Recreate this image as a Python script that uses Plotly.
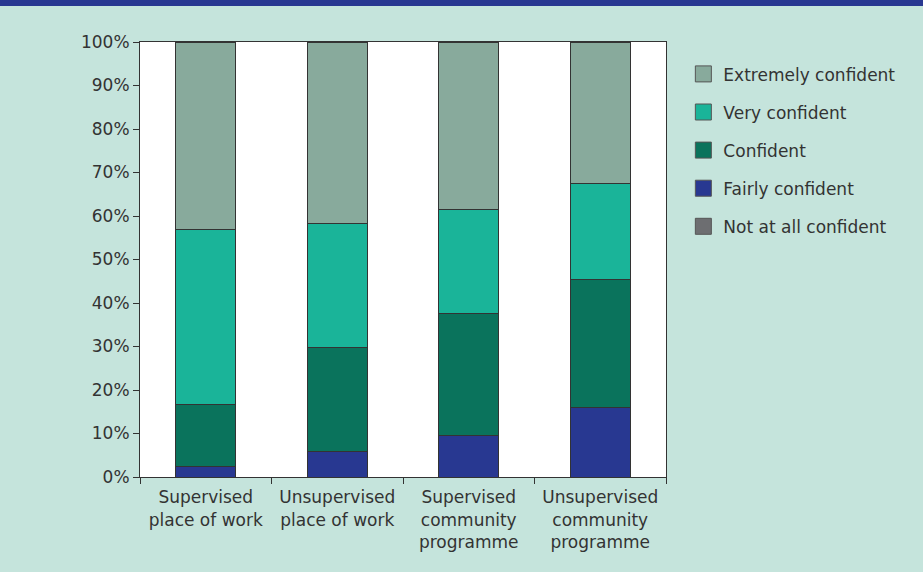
import plotly.graph_objects as go

categories = ["Supervised<br>place of work", "Unsupervised<br>place of work",
              "Supervised<br>community<br>programme", "Unsupervised<br>community<br>programme"]
not_at_all = [0, 0, 0, 0]
fairly = [2.4, 5.9, 9.6, 16.0]
confident = [14.3, 23.9, 28.0, 29.3]
very = [40.2, 28.5, 24.0, 22.1]
extremely = [43.1, 41.7, 38.4, 32.6]

series = [
    ("Not at all confident", not_at_all, "#6d6e71"),
    ("Fairly confident", fairly, "#283891"),
    ("Confident", confident, "#0a735c"),
    ("Very confident", very, "#1ab499"),
    ("Extremely confident", extremely, "#88aa9c"),
]

FONT = "'DejaVu Sans', sans-serif"
FS = 17
fig = go.Figure()
for name, vals, col in series:
    fig.add_trace(go.Bar(
        x=categories, y=vals, name=name, showlegend=False,
        marker=dict(color=col, line=dict(color="#333333", width=1)),
    ))
n = len(series)
for i, (name, vals, col) in enumerate(series):
    fig.add_trace(go.Scatter(
        x=[None], y=[None], mode="markers", name=name,
        legendgroup=name, legendrank=n - i,
        marker=dict(symbol="square", size=16, color=col,
                    line=dict(color="#555555", width=1)),
    ))

fig.update_layout(
    barmode="stack",
    bargap=0.545,
    width=923, height=572,
    paper_bgcolor="#c5e4dc",
    plot_bgcolor="white",
    margin=dict(l=140, r=257, t=42, b=95),
    font=dict(family=FONT, size=FS, color="#333333"),
    showlegend=True,
    legend=dict(
        x=1.033, y=0.967, xanchor="left", yanchor="top",
        traceorder="grouped", tracegroupgap=13,
        font=dict(size=FS, color="#333333"),
        bgcolor="rgba(0,0,0,0)",
    ),
    shapes=[dict(type="rect", xref="paper", yref="paper",
                 x0=-0.3, x1=1.6, y0=1.0828, y1=1.2,
                 fillcolor="#283891", line=dict(width=0), layer="above")],
)
fig.update_xaxes(
    showline=True, linecolor="#333333", linewidth=1, mirror=True,
    tickson="boundaries", ticks="outside", ticklen=6, tickcolor="#333333",
    ticklabelstandoff=5,
    tickfont=dict(size=FS, color="#333333"),
)
fig.update_yaxes(
    range=[0, 100], dtick=10, ticksuffix="%",
    showgrid=False, zeroline=False,
    showline=True, linecolor="#333333", linewidth=1, mirror=True,
    ticks="outside", ticklen=6, tickcolor="#333333",
    tickfont=dict(size=FS, color="#333333"),
)
fig.write_html("out.html", config={"displayModeBar": False},
               post_script="document.body.style.margin='0';document.body.style.overflow='hidden';")
